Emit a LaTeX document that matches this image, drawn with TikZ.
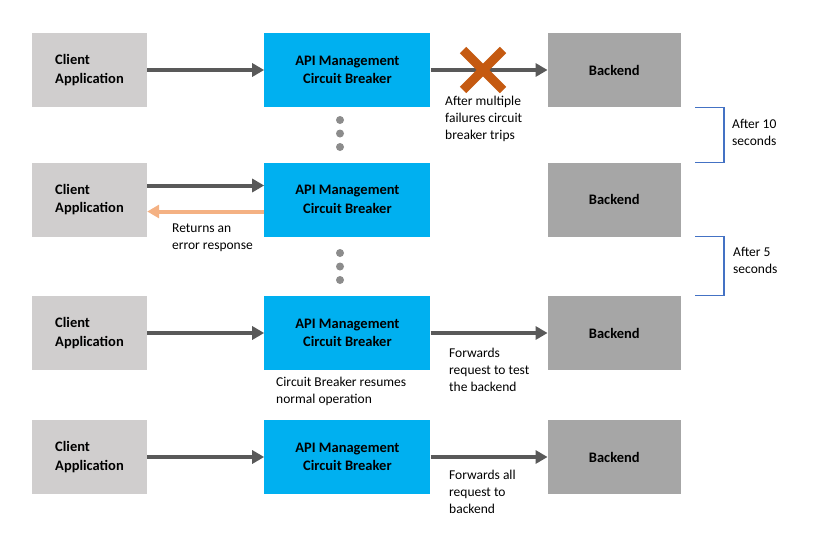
\documentclass[tikz,border=0pt]{standalone}
\usepackage{fontspec}
\setmainfont{Carlito}
\usetikzlibrary{arrows.meta,positioning}
\definecolor{clientgray}{HTML}{D0CECE}
\definecolor{apiblue}{HTML}{00B0F0}
\definecolor{backgray}{HTML}{A6A6A6}
\definecolor{flowgray}{HTML}{595959}
\definecolor{errorange}{HTML}{F4B183}
\definecolor{tripred}{HTML}{C55A11}
\definecolor{waitblue}{HTML}{4472C4}
\definecolor{dotgray}{HTML}{8C8C8C}

\begin{document}
\begin{tikzpicture}[x=1pt, y=1pt, node distance=117pt,
    every node/.append style={align=left},
    box/.style={minimum height=74pt, inner sep=0pt, font=\fontsize{14.5}{18.5}\selectfont\bfseries},
    client/.style={box, fill=clientgray, minimum width=115pt},
    api/.style={box, fill=apiblue, minimum width=166pt, align=center},
    backend/.style={box, fill=backgray, minimum width=133pt},
    note/.style={inner sep=0pt, anchor=north west, font=\fontsize{13.5}{16.8}\selectfont},
    flow/.style={-{Triangle[length=12pt,width=13pt]}, line width=4pt, draw=flowgray, fill=flowgray},
    error/.style={flow, draw=errorange, fill=errorange},
    cross/.style={line width=9pt, draw=tripred},
    bracket/.style={line width=1.1pt, draw=waitblue}]
   \useasboundingbox (0,0) rectangle (822,-541);

   % row 1: breaker trips
   \node [client] (C1) at (89.5,-70) {Client\\Application};
   \node [api, right=of C1] (A1)     {API Management\\Circuit Breaker};
   \node [backend, right=of A1] (B1) {Backend};
   % row 2: breaker open
   \node [client] (C2) at (89.5,-199.5) {Client\\Application};
   \node [api, right=of C2] (A2)     {API Management\\Circuit Breaker};
   \node [backend, right=of A2] (B2) {Backend};
   % row 3: half open
   \node [client] (C3) at (89.5,-333) {Client\\Application};
   \node [api, right=of C3] (A3)     {API Management\\Circuit Breaker};
   \node [backend, right=of A3] (B3) {Backend};
   % row 4: closed again
   \node [client] (C4) at (89.5,-457) {Client\\Application};
   \node [api, right=of C4] (A4)     {API Management\\Circuit Breaker};
   \node [backend, right=of A4] (B4) {Backend};

   \draw[flow] (C1) -- (A1);
   \draw[flow] (A1) -- (B1);
   \draw[flow] ([yshift=14pt]C2.east) -- ([yshift=14pt]A2.west);
   \draw[error] ([yshift=-12pt]A2.west) -- ([yshift=-12pt]C2.east);
   \draw[flow] (C3) -- (A3);
   \draw[flow] (A3) -- (B3);
   \draw[flow] (C4) -- (A4);
   \draw[flow] (A4) -- (B4);

   \coordinate (trip) at (483,-70);
   \draw[cross] ([shift={(-20,20)}]trip) -- ([shift={(20,-20)}]trip);
   \draw[cross] ([shift={(20,20)}]trip) -- ([shift={(-20,-20)}]trip);

   \foreach \y in {120,133.5,147,253,266.5,280}
     \fill[dotgray] (340,-\y) circle (4pt);

   \draw[bracket] ([xshift=14pt]B1.south east) -| ([xshift=43pt]B2.north east) -- ([xshift=14pt]B2.north east);
   \draw[bracket] ([xshift=14pt]B2.south east) -| ([xshift=43pt]B3.north east) -- ([xshift=14pt]B3.north east);

   \node [note] (tripnote)   at (445,-96)  {After multiple\\failures circuit\\breaker trips};
   \node [note] (errnote)    at (172,-224) {Returns an\\error response};
   \node [note] (resumenote) at (276,-377) {Circuit Breaker resumes\\normal operation};
   \node [note] (testnote)   at (449,-348) {Forwards\\request to test\\the backend};
   \node [note] (allnote)    at (449,-470) {Forwards all\\request to\\backend};
   \node [note] (wait1)      at (732,-119) {After 10\\seconds};
   \node [note] (wait2)      at (733,-247) {After 5\\seconds};
\end{tikzpicture}
\end{document}
